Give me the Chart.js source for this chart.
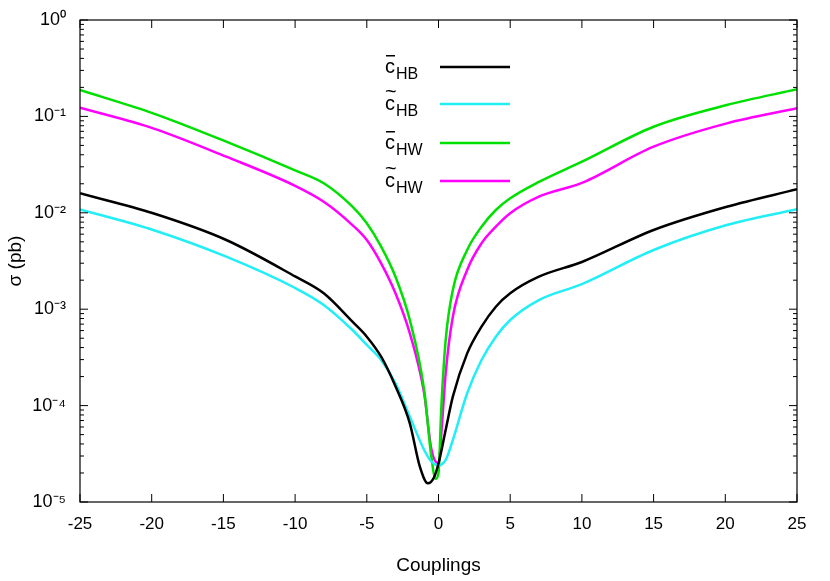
<!DOCTYPE html>
<html>
<head>
<meta charset="utf-8">
<script src="https://cdn.jsdelivr.net/npm/chart.js@4/dist/chart.umd.min.js"></script>
<style>
  body { margin: 0; background: #fff; }
  #wrap { width: 830px; height: 581px; }
</style>
</head>
<body>
<div id="wrap"><canvas id="c"></canvas></div>
<script>
// =================== Datos (log10 de sigma en pb) ===================
const xHB_bar = [-25, -19.9, -14.8, -10, -8, -6, -5, -4, -3, -2, -1.3, -0.74, -0.3, 0, 0.5, 1, 2, 3, 4, 5, 7, 10, 15, 20.1, 25];
const lHB_bar = [-1.798, -2.005, -2.282, -2.66, -2.835, -3.13, -3.285, -3.493, -3.80, -4.184, -4.634, -4.806, -4.74, -4.6, -4.253, -3.907, -3.458, -3.181, -2.974, -2.835, -2.663, -2.51, -2.178, -1.937, -1.756];

const xHB_til = [-25, -19.9, -14.8, -10, -8, -6, -5, -4, -3, -2, -1, -0.5, 0, 0.5, 1, 2, 3, 4, 5, 7, 10, 15, 20.1, 25];
const lHB_til = [-1.964, -2.178, -2.455, -2.78, -2.956, -3.216, -3.371, -3.527, -3.77, -4.115, -4.46, -4.58, -4.62, -4.564, -4.357, -3.872, -3.527, -3.285, -3.112, -2.905, -2.74, -2.386, -2.127, -1.964];

const xHW_bar = [-25, -19.9, -14.8, -10, -8, -6, -5, -4, -3, -2, -1, -0.5, -0.2, 0, 0.2, 0.5, 1, 2, 3, 4, 5, 7, 10, 15, 20.1, 25];
const lHW_bar = [-0.726, -0.968, -1.262, -1.56, -1.694, -1.937, -2.109, -2.351, -2.663, -3.112, -3.838, -4.53, -4.76, -4.70, -4.01, -3.32, -2.80, -2.386, -2.144, -1.971, -1.85, -1.68, -1.47, -1.107, -0.882, -0.719];

const xHW_til = [-25, -19.9, -14.8, -10, -8, -6, -5, -4, -3, -2, -1, -0.5, 0, 0.25, 0.5, 1, 2, 3, 4, 5, 7, 10, 15, 20.1, 25];
const lHW_til = [-0.91, -1.124, -1.418, -1.72, -1.885, -2.127, -2.282, -2.524, -2.835, -3.25, -3.872, -4.45, -4.6, -4.18, -3.665, -3.078, -2.593, -2.317, -2.144, -2.005, -1.833, -1.69, -1.314, -1.072, -0.916];

const xTicks = [-25, -20, -15, -10, -5, 0, 5, 10, 15, 20, 25];
const sup = { "0": "⁰", "1": "¹", "2": "²", "3": "³", "4": "⁴", "5": "⁵", "-": "⁻" };

const FONT = "'Liberation Sans', Arial, sans-serif";

function pts(xs, ls) {
  return xs.map((x, i) => ({ x, y: Math.pow(10, ls[i]) }));
}

const series = [
  { bar: "‾", sub: "HB", color: "#000000", data: pts(xHB_bar, lHB_bar) },
  { bar: "~", sub: "HB", color: "#22eef6", data: pts(xHB_til, lHB_til) },
  { bar: "‾", sub: "HW", color: "#00e000", data: pts(xHW_bar, lHW_bar) },
  { bar: "~", sub: "HW", color: "#ff00ff", data: pts(xHW_til, lHW_til) }
];

// =================== Ticks hacia dentro + leyenda ===================
const tickPlugin = {
  id: "inTicks",
  afterDraw(chart) {
    const { ctx, chartArea: a } = chart;
    const xs = chart.scales.x, ys = chart.scales.y;
    ctx.save();
    ctx.strokeStyle = "#000";
    ctx.lineWidth = 1;
    ctx.beginPath();
    xTicks.forEach(v => {
      const px = xs.getPixelForValue(v);
      ctx.moveTo(px, a.bottom); ctx.lineTo(px, a.bottom - 8);
      ctx.moveTo(px, a.top); ctx.lineTo(px, a.top + 8);
    });
    for (let e = -5; e <= 0; e++) {
      for (let m = 1; m <= 9; m++) {
        const v = m * Math.pow(10, e);
        if (v > 1) break;
        const py = ys.getPixelForValue(v);
        const len = m === 1 ? 8 : 4;
        ctx.moveTo(a.left, py); ctx.lineTo(a.left + len, py);
        ctx.moveTo(a.right, py); ctx.lineTo(a.right - len, py);
      }
    }
    ctx.stroke();
    ctx.lineWidth = 1.2;
    ctx.strokeRect(a.left, a.top, a.right - a.left, a.bottom - a.top);

    const rows = [67, 104, 143, 181];
    series.forEach((s, i) => {
      const y = rows[i];
      const cx = 385;
      ctx.fillStyle = "#000";
      ctx.textBaseline = "alphabetic";
      ctx.textAlign = "left";
      ctx.font = "20px " + FONT;
      ctx.fillText("c", cx, y + 6);
      if (s.bar === "~") ctx.fillText("~", cx, y - 6);
      else ctx.fillRect(cx + 1, y - 12, 9, 1.5);
      ctx.font = "16px " + FONT;
      ctx.fillText(s.sub, cx + 11, y + 12);
      ctx.strokeStyle = s.color;
      ctx.lineWidth = 2.5;
      ctx.beginPath();
      ctx.moveTo(440, y); ctx.lineTo(510, y);
      ctx.stroke();
    });
    ctx.restore();
  }
};

new Chart(document.getElementById("c"), {
  type: "line",
  data: {
    datasets: series.map(s => ({
      data: s.data,
      borderColor: s.color,
      borderWidth: 2.5,
      pointRadius: 0,
      cubicInterpolationMode: "monotone",
      fill: false
    }))
  },
  options: {
    responsive: true,
    maintainAspectRatio: false,
    animation: false,
    layout: { padding: { left: 0, right: 33, top: 20, bottom: 0 } },
    plugins: { legend: { display: false }, tooltip: { enabled: false } },
    scales: {
      x: {
        type: "linear",
        min: -25, max: 25,
        afterBuildTicks: sc => { sc.ticks = xTicks.map(v => ({ value: v })); },
        afterFit: sc => { sc.height = 79; },
        grid: { display: false },
        border: { display: false },
        ticks: { color: "#000", font: { family: FONT, size: 17 }, padding: 4 },
        title: { display: true, text: "Couplings", color: "#000", font: { family: FONT, size: 19 }, padding: { top: 16 } }
      },
      y: {
        type: "logarithmic",
        min: 1e-5, max: 1,
        afterBuildTicks: sc => {
          const t = [];
          for (let e = -5; e <= 0; e++) t.push({ value: Math.pow(10, e) });
          sc.ticks = t;
        },
        afterFit: sc => { sc.width = 80; },
        grid: { display: false },
        border: { display: false },
        ticks: {
          color: "#000",
          font: { family: FONT, size: 18 },
          padding: 6,
          callback: v => {
            const e = String(Math.round(Math.log10(v)));
            return "10" + e.split("").map(c => sup[c]).join("");
          }
        },
        title: { display: true, text: "σ (pb)", color: "#000", font: { family: FONT, size: 19 }, padding: { bottom: 4 } }
      }
    }
  },
  plugins: [tickPlugin]
});
</script>
</body>
</html>
